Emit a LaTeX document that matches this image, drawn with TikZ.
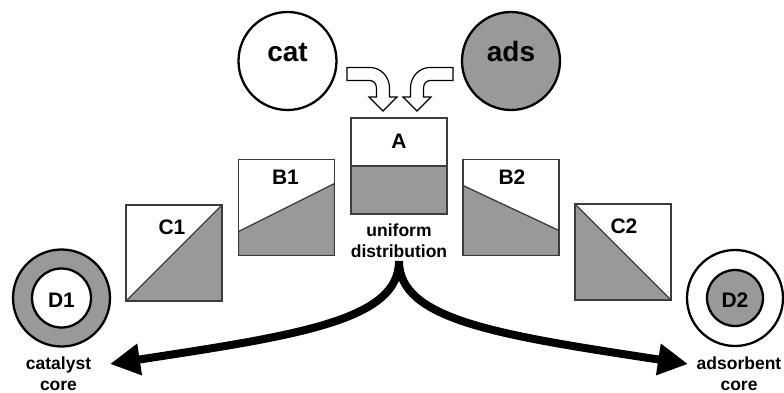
\documentclass[tikz,border=0pt]{standalone}
\usepackage{fontspec}
\setmainfont{Liberation Sans}
\usetikzlibrary{arrows.meta}
\definecolor{fillgray}{RGB}{153,153,153}
\definecolor{edgegray}{RGB}{60,60,60}
\tikzset{
  ball/.style={circle, draw=black, line width=2.3pt, minimum size=98pt, inner sep=0pt},
  ring/.style={circle, draw=black, line width=2.3pt, inner sep=0pt},
  sqbox/.style={rectangle, draw=edgegray, line width=1.3pt, minimum size=96pt, inner sep=0pt},
  graypart/.style={fill=fillgray, draw=edgegray, line width=1.3pt},
  bigtxt/.style={font=\fontsize{28}{30}\selectfont\bfseries, inner sep=0pt, anchor=base},
  boxtxt/.style={font=\fontsize{21}{23}\selectfont\bfseries, inner sep=0pt, anchor=base},
  smalltxt/.style={font=\fontsize{17.5}{21}\selectfont\bfseries, inner sep=0pt, anchor=base},
  hollow/.style={draw=black, fill=white, line width=1.2pt, line join=miter},
  bigarrow/.style={line width=8pt, {Triangle[length=30pt,width=30pt]}-{Triangle[length=30pt,width=30pt]}},
  pics/hollowarrow/.style={code={
    \path[hollow] (-36,-43.5) -- (-13,-43.5)
      .. controls (-2.3,-43.5) and (6.5,-34.3) .. (6.5,-23)
      -- (6.5,-14) -- (14,-14) -- (0,0) -- (-14,-14) -- (-6.5,-14) -- (-6.5,-23)
      .. controls (-6.5,-27) and (-9.5,-30.5) .. (-13,-30.5)
      -- (-36,-30.5) -- cycle;
  }}
}
\begin{document}
\begin{tikzpicture}[x=1pt, y=-1pt]
\useasboundingbox (0,0) rectangle (784,393);

% source spheres
\node[ball, fill=white] (cat) at (287.5,61) {};
\node[bigtxt] (catlbl) at (287.5,62) {cat};
\node[ball, fill=fillgray] (ads) at (511,61) {};
\node[bigtxt] (adslbl) at (511,62) {ads};

% hollow feed arrows
\pic at (383,111) {hollowarrow};
\pic[xscale=-1] at (417,111) {hollowarrow};

% uniform profile
\node[sqbox, path picture={
  \path[graypart] (path picture bounding box.west) rectangle (path picture bounding box.south east);}]
  (A) at (399,166) {};
\node[boxtxt] (Alb) at (399,149) {A};
\node[smalltxt] (uni1) at (399,236) {uniform};
\node[smalltxt] (uni2) at (399,257) {distribution};

% partial gradients
\node[sqbox, path picture={
  \path[graypart] (path picture bounding box.south west) -- ([yshift=24pt]path picture bounding box.south west)
     -- ([yshift=-24pt]path picture bounding box.north east) -- (path picture bounding box.south east) -- cycle;}]
  (B1) at (286.5,207.5) {};
\node[boxtxt] (B1lb) at (285.5,184) {B1};
\node[sqbox, path picture={
  \path[graypart] (path picture bounding box.south west) -- ([yshift=-26pt]path picture bounding box.north west)
     -- ([yshift=25pt]path picture bounding box.south east) -- (path picture bounding box.south east) -- cycle;}]
  (B2) at (511,207.5) {};
\node[boxtxt] (B2lb) at (512,184) {B2};

% full gradients
\node[sqbox, path picture={
  \path[graypart] (path picture bounding box.south west) -- (path picture bounding box.north east)
     -- (path picture bounding box.south east) -- cycle;}]
  (C1) at (174,253) {};
\node[boxtxt] (C1lb) at (172,234) {C1};
\node[sqbox, path picture={
  \path[graypart] (path picture bounding box.north west) -- (path picture bounding box.south east)
     -- (path picture bounding box.south west) -- cycle;}]
  (C2) at (623,252) {};
\node[boxtxt] (C2lb) at (624,233) {C2};

% core-shell pellets
\node[ring, fill=fillgray, minimum size=97pt] (D1) at (61.5,298) {};
\node[ring, fill=white, minimum size=59pt] (D1in) at (61.5,298) {};
\node[boxtxt] (D1lb) at (61.5,307) {D1};
\node[ring, fill=white, minimum size=96pt] (D2) at (735,298) {};
\node[ring, fill=fillgray, minimum size=56pt] (D2in) at (735,298) {};
\node[boxtxt] (D2lb) at (735,307) {D2};

\node[smalltxt] (cat1) at (58.5,369) {catalyst};
\node[smalltxt] (cat2) at (58.5,390) {core};
\node[smalltxt] (ads1) at (739,369) {adsorbent};
\node[smalltxt] (ads2) at (739,390) {core};

% branching arrow
\coordinate (apex) at (399,261);
\coordinate (tipL) at (110,364);
\coordinate (tipR) at (688,364);
\draw[bigarrow] (tipR) .. controls (498,335) and (399,320) .. (apex)
                .. controls (399,320) and (300,335) .. (tipL);
\end{tikzpicture}
\end{document}
